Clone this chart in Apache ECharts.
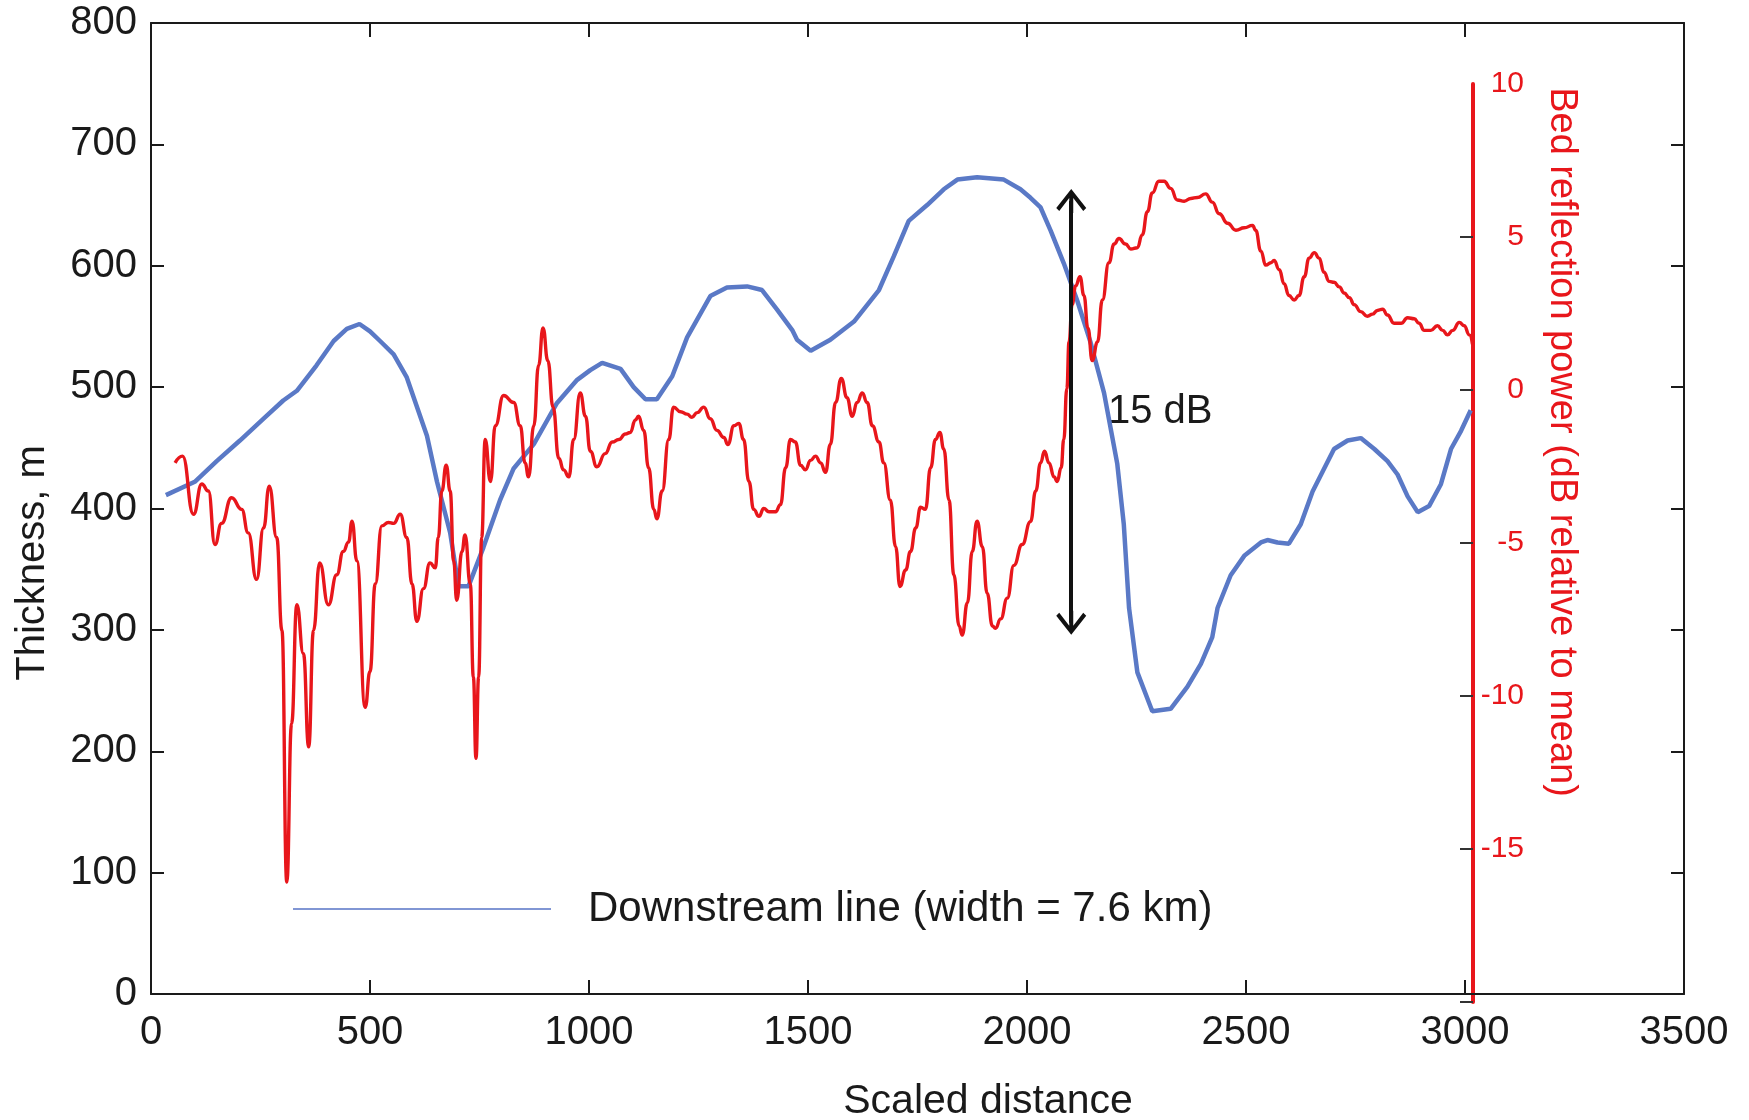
<!DOCTYPE html>
<html>
<head>
<meta charset="utf-8">
<script src="https://cdn.jsdelivr.net/npm/echarts@6/dist/echarts.min.js"></script>
<style>
html,body{margin:0;padding:0;background:#fff;}
#chart{width:1749px;height:1120px;}
</style>
</head>
<body>
<div id="chart"></div>
<script>
// ---- Data ----
const xTicks = [0, 500, 1000, 1500, 2000, 2500, 3000, 3500];
const thicknessTicks = [0, 100, 200, 300, 400, 500, 600, 700, 800];
const powerTicks = [-20, -15, -10, -5, 0, 5, 10];

const thicknessDistance = [34,100,150,203,257,302,333,378,417,447,476,500,523,554,584,630,653,683,702,725,759,797,828,874,927,973,1003,1030,1072,1102,1129,1155,1190,1224,1277,1315,1361,1395,1429,1464,1475,1506,1551,1605,1662,1696,1730,1772,1810,1841,1886,1947,1985,2008,2031,2054,2084,2115,2145,2176,2206,2221,2233,2252,2286,2328,2366,2397,2423,2435,2465,2496,2534,2549,2572,2598,2625,2652,2701,2732,2762,2793,2823,2846,2869,2892,2918,2945,2968,2991,3013];
const thicknessValues = [411,422,439,456,474,489,497,518,538,548,552,546,538,527,508,460,422,380,336,336,368,407,433,453,487,506,514,520,515,500,490,490,509,541,575,582,583,580,564,547,539,530,539,554,580,608,637,650,663,671,673,671,663,656,648,629,602,571,537,495,437,387,318,265,233,235,253,272,294,318,345,361,372,374,372,371,387,414,449,456,458,449,439,428,410,397,402,420,449,464,481];

const powerProfile = [[55,-2.38],[72,-2.16],[97,-4.06],[116,-3.07],[131,-3.30],[146,-5.05],[161,-4.36],[184,-3.52],[207,-3.9],[222,-4.67],[241,-6.19],[257,-4.51],[270,-3.14],[287,-4.82],[299,-7.86],[310,-16.08],[321,-10.9],[333,-7.02],[348,-8.62],[360,-11.66],[371,-7.86],[385,-5.65],[405,-7.02],[424,-6.04],[439,-5.28],[451,-4.97],[459,-4.29],[470,-5.58],[489,-10.37],[500,-9.2],[512,-6.34],[527,-4.44],[542,-4.33],[554,-4.36],[569,-4.06],[584,-4.82],[596,-6.34],[607,-7.56],[622,-6.49],[637,-5.65],[649,-5.81],[656,-4.82],[664,-3.3],[674,-2.46],[683,-3.3],[691,-5.58],[698,-6.87],[710,-5.28],[717,-4.74],[729,-6.34],[736,-9.38],[742,-12.04],[748,-9.38],[755,-4.82],[763,-1.62],[775,-2.99],[786,-1.17],[805,-0.18],[828,-0.41],[843,-1.17],[854,-2.38],[862,-2.84],[874,-1.17],[885,0.81],[895,2.03],[906,0.96],[918,-0.56],[931,-2.23],[942,-2.61],[954,-2.84],[965,-1.62],[980,-0.10],[992,-0.86],[1003,-2.0],[1018,-2.51],[1037,-2.08],[1053,-1.7],[1068,-1.62],[1083,-1.44],[1094,-1.39],[1106,-0.98],[1113,-0.86],[1125,-1.32],[1136,-2.54],[1148,-3.9],[1155,-4.21],[1167,-3.3],[1182,-1.62],[1193,-0.56],[1209,-0.71],[1224,-0.79],[1235,-0.89],[1247,-0.74],[1262,-0.56],[1277,-0.94],[1292,-1.32],[1308,-1.55],[1317,-1.78],[1331,-1.17],[1342,-1.09],[1353,-1.62],[1365,-2.99],[1376,-3.9],[1388,-4.13],[1399,-3.87],[1411,-3.98],[1426,-3.98],[1437,-3.75],[1449,-2.54],[1460,-1.62],[1471,-1.70],[1483,-2.46],[1494,-2.61],[1506,-2.3],[1517,-2.16],[1529,-2.38],[1540,-2.69],[1551,-1.78],[1563,-0.41],[1576,0.38],[1589,-0.25],[1601,-0.86],[1612,-0.41],[1624,-0.10],[1635,-0.41],[1647,-1.17],[1662,-1.70],[1673,-2.38],[1688,-3.6],[1700,-5.12],[1710,-6.42],[1723,-5.88],[1734,-5.28],[1746,-4.51],[1757,-3.83],[1768,-3.9],[1780,-2.54],[1791,-1.62],[1801,-1.39],[1810,-1.93],[1822,-3.6],[1833,-6.04],[1845,-7.71],[1852,-8.01],[1864,-6.95],[1875,-5.28],[1886,-4.29],[1898,-5.12],[1909,-6.64],[1921,-7.71],[1928,-7.79],[1940,-7.48],[1955,-6.8],[1970,-5.73],[1989,-5.05],[2008,-4.3],[2020,-3.3],[2031,-2.38],[2040,-2.0],[2050,-2.38],[2062,-2.84],[2069,-2.99],[2078,-2.54],[2084,-1.62],[2091,0.05],[2096,1.57],[2103,2.79],[2111,3.4],[2121,3.70],[2130,3.09],[2139,2.03],[2149,0.96],[2161,1.57],[2172,2.94],[2187,4.16],[2199,4.77],[2210,4.95],[2225,4.77],[2237,4.61],[2252,4.65],[2263,5.07],[2275,5.83],[2286,6.44],[2301,6.82],[2313,6.82],[2328,6.59],[2343,6.21],[2359,6.17],[2374,6.26],[2389,6.29],[2408,6.41],[2423,6.14],[2439,5.76],[2458,5.45],[2477,5.22],[2496,5.3],[2515,5.38],[2522,5.22],[2534,4.54],[2545,4.08],[2557,4.16],[2564,4.23],[2576,3.93],[2587,3.47],[2598,3.09],[2610,2.94],[2621,3.09],[2633,3.7],[2644,4.31],[2656,4.49],[2667,4.31],[2678,3.85],[2690,3.55],[2701,3.52],[2713,3.37],[2724,3.17],[2736,3.02],[2747,2.79],[2762,2.56],[2777,2.41],[2789,2.48],[2800,2.6],[2812,2.64],[2823,2.45],[2838,2.18],[2854,2.18],[2869,2.36],[2884,2.33],[2895,2.18],[2907,1.95],[2922,1.95],[2937,2.1],[2949,1.95],[2960,1.8],[2972,1.95],[2987,2.21],[2998,2.1],[3010,1.8],[3017,1.5]];

// 15 dB range arrow (distance, dB from, dB to)
const arrowDistance = 2101;
const arrowRange = [-7.61, 6.18];

const seriesName = 'Downstream line (width = 7.6 km)';
const xTitle = 'Scaled distance';
const yTitle = 'Thickness, m';
const y2Title = 'Bed reflection power (dB relative to mean)';
const arrowText = '15 dB';

// ---- Chart ----
const FONT = '"Liberation Sans", Arial, Helvetica, sans-serif';
const NARROW = '"Liberation Sans Narrow", "Arial Narrow", "Liberation Sans", Arial, sans-serif';
const INK = '#1a1a1a';
const BLUE = '#5a79c6';
const RED = '#e8161b';

const chart = echarts.init(document.getElementById('chart'), null, {renderer: 'canvas'});

const thicknessData = thicknessDistance.map((d, i) => [d, thicknessValues[i]]);

const axisLineBlack = {show: true, onZero: false, lineStyle: {color: INK, width: 2}};
const tickBlack = (len) => ({show: true, inside: true, length: len, lineStyle: {color: INK, width: 2}});
const plain = (v) => String(v);

const chevron = 'path://M15,0 L30,19 L27,22 L17,9 L17,24 L13,24 L13,9 L3,22 L0,19 Z';

chart.setOption({
  animation: false,
  backgroundColor: '#ffffff',
  grid: [
    {left: 151, top: 23, width: 1533, height: 971, show: false},
    {left: 151, top: 84, width: 1322, height: 918, show: false}
  ],
  xAxis: [
    {
      type: 'value', gridIndex: 0, position: 'bottom',
      min: xTicks[0], max: xTicks[xTicks.length - 1], interval: 500,
      axisLine: axisLineBlack, axisTick: tickBlack(14), splitLine: {show: false},
      axisLabel: {fontSize: 40, fontFamily: FONT, color: INK, margin: 19,
        showMinLabel: true, showMaxLabel: true, formatter: plain}
    },
    {
      type: 'value', gridIndex: 0, position: 'top',
      min: xTicks[0], max: xTicks[xTicks.length - 1], interval: 500,
      axisLine: axisLineBlack, axisTick: tickBlack(14), splitLine: {show: false},
      axisLabel: {show: false}
    },
    {
      type: 'value', gridIndex: 1, show: false,
      min: 0, max: 1322 * 3500 / 1533
    }
  ],
  yAxis: [
    {
      type: 'value', gridIndex: 0, position: 'left',
      min: thicknessTicks[0], max: thicknessTicks[thicknessTicks.length - 1], interval: 100,
      axisLine: axisLineBlack, axisTick: tickBlack(13), splitLine: {show: false},
      axisLabel: {fontSize: 40, fontFamily: FONT, color: INK, margin: 14,
        showMinLabel: true, showMaxLabel: true, formatter: plain}
    },
    {
      type: 'value', gridIndex: 0, position: 'right',
      min: thicknessTicks[0], max: thicknessTicks[thicknessTicks.length - 1], interval: 100,
      axisLine: axisLineBlack, axisTick: tickBlack(13), splitLine: {show: false},
      axisLabel: {show: false}
    },
    {
      type: 'value', gridIndex: 1, position: 'right',
      min: powerTicks[0], max: powerTicks[powerTicks.length - 1], interval: 5,
      axisLine: {show: true, onZero: false, lineStyle: {color: RED, width: 4}},
      axisTick: {show: true, inside: true, length: 13, lineStyle: {color: '#333', width: 2},
        customValues: powerTicks.slice(0, powerTicks.length - 1)},
      splitLine: {show: false},
      axisLabel: {
        fontSize: 30, fontFamily: NARROW, color: RED, margin: 51, align: 'right',
        showMinLabel: true, showMaxLabel: true,
        formatter: (v) => (v === powerTicks[0] ? '' : String(v))
      }
    }
  ],
  legend: {
    show: true, left: 293, top: 888, padding: 0,
    itemWidth: 258, itemHeight: 2, itemGap: 0, icon: 'rect',
    selectedMode: false,
    textStyle: {fontSize: 42, fontFamily: FONT, color: INK, padding: [0, 0, 0, 32]},
    data: [{name: seriesName, itemStyle: {color: '#8196d4'}}]
  },
  series: [
    {
      name: seriesName, type: 'line', xAxisIndex: 0, yAxisIndex: 0,
      data: thicknessData, showSymbol: false, symbol: 'none', smooth: false,
      lineStyle: {color: BLUE, width: 4.5}, itemStyle: {color: BLUE}, z: 2,
      silent: true
    },
    {
      name: 'Bed reflection power', type: 'line', xAxisIndex: 2, yAxisIndex: 2,
      data: powerProfile, showSymbol: false, symbol: 'none',
      smooth: 0.5, smoothMonotone: 'x',
      lineStyle: {color: RED, width: 3.4}, itemStyle: {color: RED}, z: 3,
      silent: true,
      markLine: {
        silent: true, animation: false,
        symbol: [chevron, chevron], symbolSize: [30, 24],
        label: {show: false},
        lineStyle: {color: '#111', width: 4, type: 'solid'},
        itemStyle: {color: '#111'},
        emphasis: {disabled: true},
        data: [[{coord: [arrowDistance, arrowRange[0]]}, {coord: [arrowDistance, arrowRange[1]]}]],
        z: 10
      }
    }
  ],
  graphic: [
    {type: 'text', x: 33, y: 563, rotation: Math.PI / 2, silent: true,
      style: {text: yTitle, fontSize: 40, fontFamily: FONT, fill: INK,
        align: 'center', verticalAlign: 'middle', textAlign: 'center', textVerticalAlign: 'middle'}},
    {type: 'text', x: 1561, y: 442, rotation: -Math.PI / 2, silent: true,
      style: {text: y2Title, fontSize: 38, fontFamily: FONT, fill: RED,
        align: 'center', verticalAlign: 'middle', textAlign: 'center', textVerticalAlign: 'middle'}},
    {type: 'text', x: 1108, y: 412, silent: true,
      style: {text: arrowText, fontSize: 40, fontFamily: FONT, fill: INK,
        align: 'left', verticalAlign: 'middle', textAlign: 'left', textVerticalAlign: 'middle'}},
    {type: 'text', x: 988, y: 1102, silent: true,
      style: {text: xTitle, fontSize: 41, fontFamily: FONT, fill: INK,
        align: 'center', verticalAlign: 'middle', textAlign: 'center', textVerticalAlign: 'middle'}}
  ]
});
</script>
</body>
</html>
